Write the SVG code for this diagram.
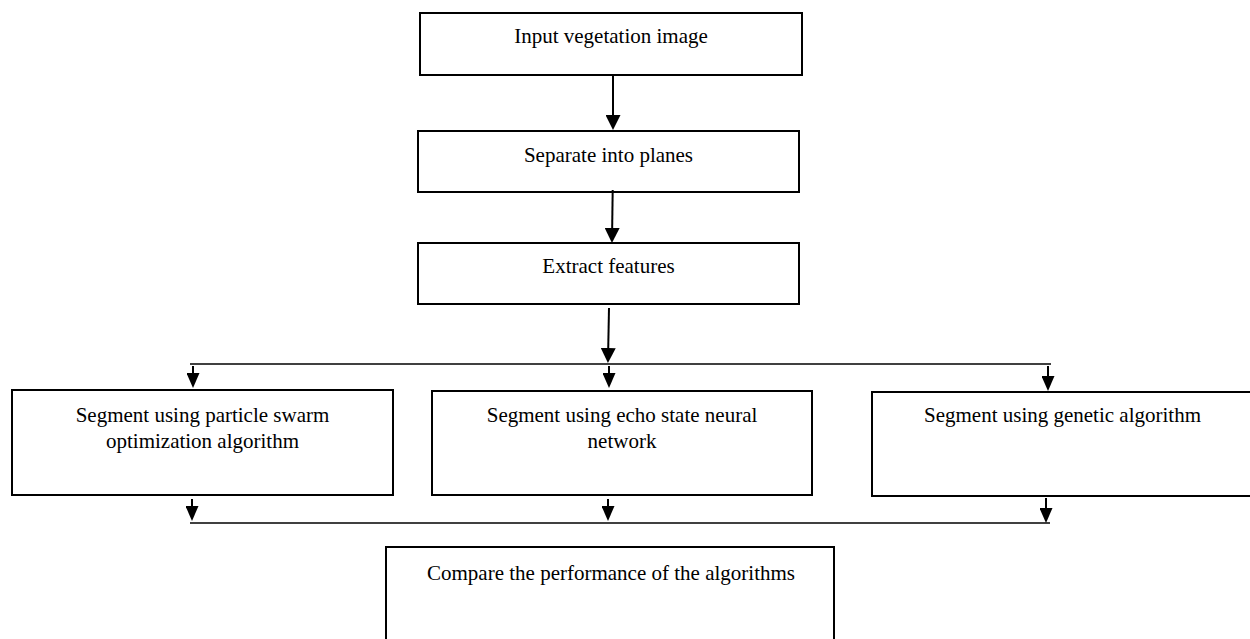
<svg xmlns="http://www.w3.org/2000/svg" width="1250" height="639" viewBox="0 0 1250 639">
<defs>
<marker id="ah" viewBox="0 0 15 15" refX="12" refY="7.5" markerWidth="15" markerHeight="15" markerUnits="userSpaceOnUse" orient="auto"><path d="M0,0 L15,7.5 L0,15 Z" fill="#000"/></marker>
<marker id="as" viewBox="0 0 15 13" refX="12" refY="6.5" markerWidth="15" markerHeight="13" markerUnits="userSpaceOnUse" orient="auto"><path d="M0,0 L15,6.5 L0,13 Z" fill="#000"/></marker>
</defs>
<style>
.box{fill:#fff;stroke:#000;stroke-width:2}
.t{font-family:"Liberation Serif","Times New Roman",serif;font-size:21px;fill:#000;text-anchor:middle}
.c{stroke:#000;stroke-width:2;fill:none}
.bus{stroke:#000;stroke-width:1.6;fill:none}
</style>
<rect width="1250" height="639" fill="#fff"/>
<g id="n1"><rect class="box" x="420" y="13" width="382" height="62"/><text class="t" x="611" y="43">Input vegetation image</text></g>
<g id="n2"><rect class="box" x="418" y="131" width="381" height="61"/><text class="t" x="608.5" y="162">Separate into planes</text></g>
<g id="n3"><rect class="box" x="418" y="243" width="381" height="61"/><text class="t" x="608.5" y="273">Extract features</text></g>
<g id="n4"><rect class="box" x="12" y="390" width="381" height="105"/><text class="t" x="202.5" y="422">Segment using particle swarm</text><text class="t" x="202.5" y="448">optimization algorithm</text></g>
<g id="n5"><rect class="box" x="432" y="391" width="380" height="104"/><text class="t" x="622" y="422">Segment using echo state neural</text><text class="t" x="622" y="448">network</text></g>
<g id="n6"><rect class="box" x="872" y="392" width="381" height="104"/><text class="t" x="1062.5" y="422">Segment using genetic algorithm</text></g>
<g id="n7"><rect class="box" x="386" y="547" width="448" height="100"/><text class="t" x="611" y="580">Compare the performance of the algorithms</text></g>
<g id="connectors">
<line class="c" x1="613" y1="75" x2="613" y2="127" marker-end="url(#ah)"/>
<line class="c" x1="612.7" y1="190" x2="612" y2="240" marker-end="url(#ah)"/>
<line class="c" x1="609" y1="308" x2="608" y2="360" marker-end="url(#ah)"/>
<line class="bus" x1="190" y1="364" x2="1051" y2="364"/>
<line class="c" x1="193" y1="366" x2="193" y2="385" marker-end="url(#as)"/>
<line class="c" x1="609" y1="366" x2="609" y2="385" marker-end="url(#as)"/>
<line class="c" x1="1048" y1="366" x2="1048" y2="388" marker-end="url(#as)"/>
<line class="c" x1="192" y1="499" x2="192" y2="518" marker-end="url(#as)"/>
<line class="c" x1="608" y1="499" x2="608" y2="518" marker-end="url(#as)"/>
<line class="c" x1="1046" y1="498" x2="1046" y2="520" marker-end="url(#as)"/>
<line class="bus" x1="190" y1="523" x2="1050" y2="523"/>
</g>
</svg>
